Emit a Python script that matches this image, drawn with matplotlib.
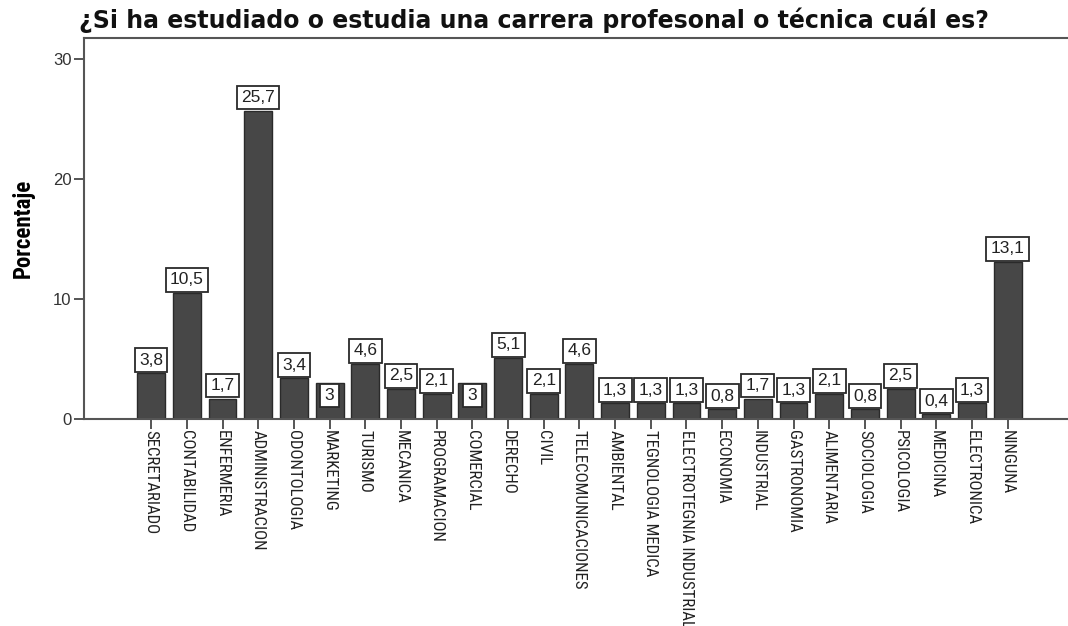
import matplotlib
matplotlib.use('Agg')
import matplotlib.pyplot as plt
from matplotlib import font_manager

categories = ['SECRETARIADO', 'CONTABILIDAD', 'ENFERMERIA', 'ADMINISTRACION', 'ODONTOLOGIA',
              'MARKETING', 'TURISMO', 'MECANICA', 'PROGRAMACION', 'COMERCIAL', 'DERECHO', 'CIVIL',
              'TELECOMUNICACIONES', 'AMBIENTAL', 'TEGNOLOGIA MEDICA', 'ELECTROTEGNIA INDUSTRIAL',
              'ECONOMIA', 'INDUSTRIAL', 'GASTRONOMIA', 'ALIMENTARIA', 'SOCIOLOGIA', 'PSICOLOGIA',
              'MEDICINA', 'ELECTRONICA', 'NINGUNA']
values = [3.8, 10.5, 1.7, 25.7, 3.4, 3, 4.6, 2.5, 2.1, 3, 5.1, 2.1, 4.6, 1.3, 1.3, 1.3,
          0.8, 1.7, 1.3, 2.1, 0.8, 2.5, 0.4, 1.3, 13.1]
# labels that SPSS tucked inside the bar
inside_labels = ['MARKETING', 'COMERCIAL']

# look for a condensed sans face (Arial Narrow look), else shrink the regular one
names = {f.name for f in font_manager.fontManager.ttflist}
narrow_props = None
for cand in ['Liberation Sans Narrow', 'Roboto Condensed', 'Open Sans Condensed',
             'Noto Sans Condensed', 'DejaVu Sans Condensed']:
    if cand in names:
        narrow_props = dict(family=cand)
        break
if narrow_props is None:
    for f in font_manager.fontManager.ttflist:
        if str(f.stretch) in ('condensed', 'semi-condensed', '500', '400') and 'condensed' in f.fname.lower() \
                and f.style == 'normal' and f.weight in (400, 'normal', 'regular'):
            narrow_props = dict(fname=f.fname)
            break

if narrow_props is not None:
    xl_font = font_manager.FontProperties(size=12.2, **narrow_props)
    yl_font = font_manager.FontProperties(size=16.5, weight='bold', **narrow_props)
else:
    xl_font = font_manager.FontProperties(family='Liberation Sans', size=10.5)
    yl_font = font_manager.FontProperties(family='Liberation Sans', size=14, weight='bold')

fig = plt.figure(figsize=(10.68, 6.26), dpi=100)
ax = fig.add_axes([0.0787, 0.3307, 0.9213, 0.6086])

x = list(range(len(categories)))
ax.bar(x, values, width=0.78, color='#474747', edgecolor='#2a2a2a', linewidth=1.0, zorder=2)

box = dict(boxstyle='square,pad=0.25', fc='white', ec='#2a2a2a', lw=1.3)
for xi, cat, v in zip(x, categories, values):
    txt = f"{v:g}".replace('.', ',')
    if cat in inside_labels:
        ax.annotate(txt, (xi, v), xytext=(0, -3.5), textcoords='offset points',
                    ha='center', va='top', fontsize=12.5, family='Liberation Sans',
                    color='#222222', bbox=box, zorder=3)
    else:
        ax.annotate(txt, (xi, v), xytext=(0, 4), textcoords='offset points',
                    ha='center', va='bottom', fontsize=12.5, family='Liberation Sans',
                    color='#222222', bbox=box, zorder=3)

ax.set_xlim(-1.88, 25.69)
ax.set_ylim(0, 31.75)
ax.set_yticks([0, 10, 20, 30])
ax.set_xticks(x)
ax.set_xticklabels(categories, rotation=-90, ha='center', va='top', color='#222222')
for lbl in ax.get_xticklabels():
    lbl.set_fontproperties(xl_font)
for lbl in ax.get_yticklabels():
    lbl.set_family('Liberation Sans')
    lbl.set_fontsize(12)
    lbl.set_color('#333333')

ax.tick_params(axis='both', direction='out', length=7, width=1.4, color='#555555')
ax.tick_params(axis='x', pad=1)
ax.tick_params(axis='y', pad=2)
for side in ['left', 'bottom', 'top']:
    ax.spines[side].set_color('#555555')
    ax.spines[side].set_linewidth(1.5)
ax.spines['right'].set_visible(False)

ax.set_ylabel('Porcentaje', fontproperties=yl_font, labelpad=13)

fig.text(0.5, 0.967, '¿Si ha estudiado o estudia una carrera profesonal o técnica cuál es?',
         ha='center', va='center', fontsize=17, fontweight='bold', family='DejaVu Sans',
         color='#111111')

fig.savefig('out.png', dpi=100)
